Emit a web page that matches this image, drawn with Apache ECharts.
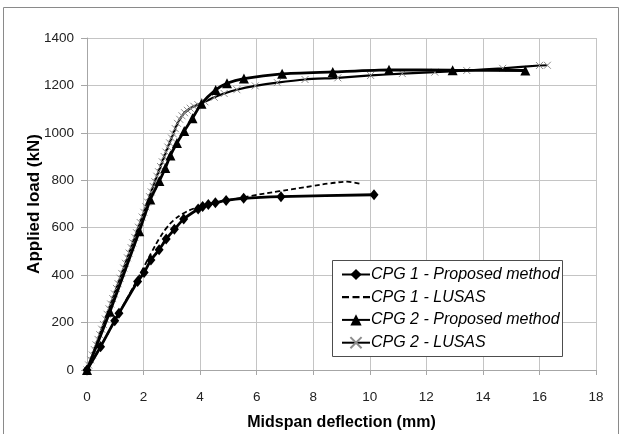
<!DOCTYPE html>
<html>
<head>
<meta charset="utf-8">
<script src="https://cdn.jsdelivr.net/npm/echarts@6/dist/echarts.min.js"></script>
<style>
	html, body { margin: 0; padding: 0; background: #fff; }
	#container { width: 622px; height: 434px; }
</style>
</head>
<body>
<div id="container"></div>
<script>
	// ticks
	var xTicks = [0, 2, 4, 6, 8, 10, 12, 14, 16, 18];
	var yTicks = [0, 200, 400, 600, 800, 1000, 1200, 1400];

	var seriesNames = ['CPG 1 - Proposed method', 'CPG 1 - LUSAS', 'CPG 2 - Proposed method', 'CPG 2 - LUSAS'];

	/*CPG 1 proposed (diamonds)*/
	var cpg1Proposed = [[0, 0], [0.48, 98], [0.98, 208], [1.13, 239], [1.79, 373], [2.02, 411], [2.26, 464], [2.55, 507],
		[2.80, 552], [3.09, 593], [3.42, 637], [3.93, 679], [4.09, 689], [4.29, 698], [4.54, 705], [4.92, 715],
		[5.54, 724], [6.86, 731], [10.15, 739]];

	/*CPG 1 LUSAS (dashed)*/
	var cpg1Lusas = [[0, 0], [0.5, 102], [1.0, 212], [1.5, 320], [2.0, 432], [2.3, 500], [2.55, 553], [2.8, 597],
		[3.05, 630], [3.4, 660], [3.8, 682], [4.2, 697], [4.7, 710], [5.2, 720], [5.8, 734], [6.8, 754],
		[8.0, 776], [8.6, 787], [9.2, 794], [9.7, 784]];

	/*CPG 2 proposed (triangles)*/
	var cpg2Proposed = [[0, 0], [0.81, 246], [1.85, 585], [2.24, 719], [2.56, 797], [2.77, 852], [2.95, 905],
		[3.18, 957], [3.44, 1008], [3.73, 1062], [4.05, 1123], [4.55, 1181], [4.95, 1209], [5.55, 1229],
		[6.9, 1249], [8.69, 1257], [10.68, 1266], [12.93, 1264], [15.5, 1263]];

	/*CPG 2 LUSAS (crosses, dense at start)*/
	var cpg2LusasX = [0, 0.06, 0.13, 0.19, 0.26, 0.32, 0.39, 0.45, 0.52, 0.58, 0.65, 0.71, 0.78, 0.84, 0.91, 0.97,
		1.04, 1.10, 1.17, 1.23, 1.30, 1.36, 1.43, 1.49, 1.56, 1.62, 1.69, 1.75, 1.82, 1.88, 1.95, 2.01,
		2.08, 2.14, 2.21, 2.27, 2.34, 2.40, 2.47, 2.53, 2.60, 2.66, 2.73, 2.79, 2.86, 2.92, 2.99, 3.05,
		3.12, 3.20, 3.28, 3.36, 3.45, 3.55, 3.65, 3.78, 3.92, 4.17, 4.50, 4.85, 5.30, 5.95, 6.73, 7.71,
		8.87, 10.03, 11.15, 12.30, 13.43, 14.70, 16.00, 16.28];
	var cpg2LusasY = [0, 21, 43, 63, 86, 106, 129, 149, 172, 192, 215, 235, 258, 278, 301, 321,
		344, 364, 387, 407, 430, 450, 473, 493, 516, 536, 559, 579, 602, 622, 645, 665,
		688, 708, 731, 751, 774, 794, 817, 836, 858, 878, 900, 919, 940, 958, 978, 996,
		1018, 1040, 1057, 1072, 1085, 1095, 1104, 1112, 1119, 1131, 1150, 1166, 1182, 1198, 1212, 1225,
		1232, 1242, 1250, 1256, 1263, 1272, 1284, 1285];

	var cpg2Lusas = [];
	for (var i = 0; i < cpg2LusasX.length; i++) {
		cpg2Lusas.push([cpg2LusasX[i], cpg2LusasY[i]]);
	}

	var fontTick = '"Liberation Sans", Arial, sans-serif';
	var crossPath = 'path://M0,0L10,10M10,0L0,10';
	var dashIcon = 'path://M0,0h6v2h-6z M9,0h6v2h-6z M18,0h6v2h-6z';

	var echart = echarts.init(document.getElementById('container'));
	var option = {
		animation: false,
		backgroundColor: '#fff',
		graphic: [{
			type: 'rect',
			shape: { x: 3.5, y: 7.5, width: 615, height: 440 },
			style: { fill: 'none', stroke: '#8a8a8a', lineWidth: 1 },
			z: 0
		}, {
			// legend box
			type: 'rect',
			shape: { x: 332.5, y: 260.5, width: 230, height: 96 },
			style: { fill: '#fff', stroke: '#4d4d4d', lineWidth: 1 },
			z: 3
		}],
		grid: {
			left: 87,
			right: 26,
			top: 38,
			bottom: 64,
			outerBoundsMode: 'none'
		},
		legend: {
			orient: 'vertical',
			left: 341,
			top: 266.5,
			padding: 0,
			itemWidth: 28,
			itemHeight: 14,
			itemGap: 6.7,
			z: 5,
			data: [seriesNames[0], { name: seriesNames[1], icon: dashIcon }, seriesNames[2], seriesNames[3]],
			textStyle: {
				fontFamily: fontTick,
				fontStyle: 'italic',
				fontSize: 16,
				color: '#000',
				padding: [0, 0, 0, -4]
			}
		},
		xAxis: {
			type: 'value',
			min: 0,
			max: 18,
			interval: 2,
			name: 'Midspan deflection (mm)',
			nameLocation: 'middle',
			nameGap: 45,
			nameMoveOverlap: false,
			nameTextStyle: { fontFamily: fontTick, fontWeight: 'bold', fontSize: 16, color: '#000' },
			axisLine: { lineStyle: { color: '#a6a6a6', width: 1 } },
			axisTick: { show: true, length: 5, lineStyle: { color: '#a6a6a6' } },
			axisLabel: {
				fontFamily: fontTick, fontSize: 13.5, color: '#222', margin: 20,
				formatter: function(v) { return xTicks.indexOf(v) != -1 ? String(v) : ''; }
			},
			splitLine: { show: true, lineStyle: { color: '#c4c4c4', width: 1 } }
		},
		yAxis: {
			type: 'value',
			min: 0,
			max: 1400,
			interval: 200,
			name: 'Applied load (kN)',
			nameLocation: 'middle',
			nameGap: 44,
			nameMoveOverlap: false,
			nameTextStyle: { fontFamily: fontTick, fontWeight: 'bold', fontSize: 17, color: '#000' },
			axisLine: { show: true, lineStyle: { color: '#a6a6a6', width: 1 } },
			axisTick: { show: true, length: 6, lineStyle: { color: '#a6a6a6' } },
			axisLabel: {
				fontFamily: fontTick, fontSize: 13.5, color: '#222', margin: 13,
				formatter: function(v) { return yTicks.indexOf(v) != -1 ? String(v) : ''; }
			},
			splitLine: { show: true, lineStyle: { color: '#c4c4c4', width: 1 } }
		},
		series: [{
			name: seriesNames[0],
			type: 'line',
			data: cpg1Proposed,
			smooth: 0.2,
			symbol: 'diamond',
			symbolSize: [9, 11],
			showAllSymbol: true,
			itemStyle: { color: '#000' },
			lineStyle: { color: '#000', width: 2.8 },
			z: 4
		}, {
			name: seriesNames[1],
			type: 'line',
			data: cpg1Lusas,
			smooth: 0.4,
			symbol: 'none',
			itemStyle: { color: '#000' },
			lineStyle: { color: '#000', width: 1.8, type: [5, 3] },
			z: 3
		}, {
			name: seriesNames[2],
			type: 'line',
			data: cpg2Proposed,
			smooth: 0.2,
			symbol: 'triangle',
			symbolSize: [10, 10],
			showAllSymbol: true,
			itemStyle: { color: '#000' },
			lineStyle: { color: '#000', width: 2.8 },
			z: 4
		}, {
			name: seriesNames[3],
			type: 'line',
			data: cpg2Lusas,
			smooth: 0.2,
			symbol: crossPath,
			symbolSize: 7,
			showAllSymbol: true,
			itemStyle: { color: 'none', borderColor: '#8c8c8c', borderWidth: 1 },
			lineStyle: { color: '#000', width: 2.2 },
			z: 3
		}]
	};

	echart.setOption(option);
</script>
</body>
</html>
